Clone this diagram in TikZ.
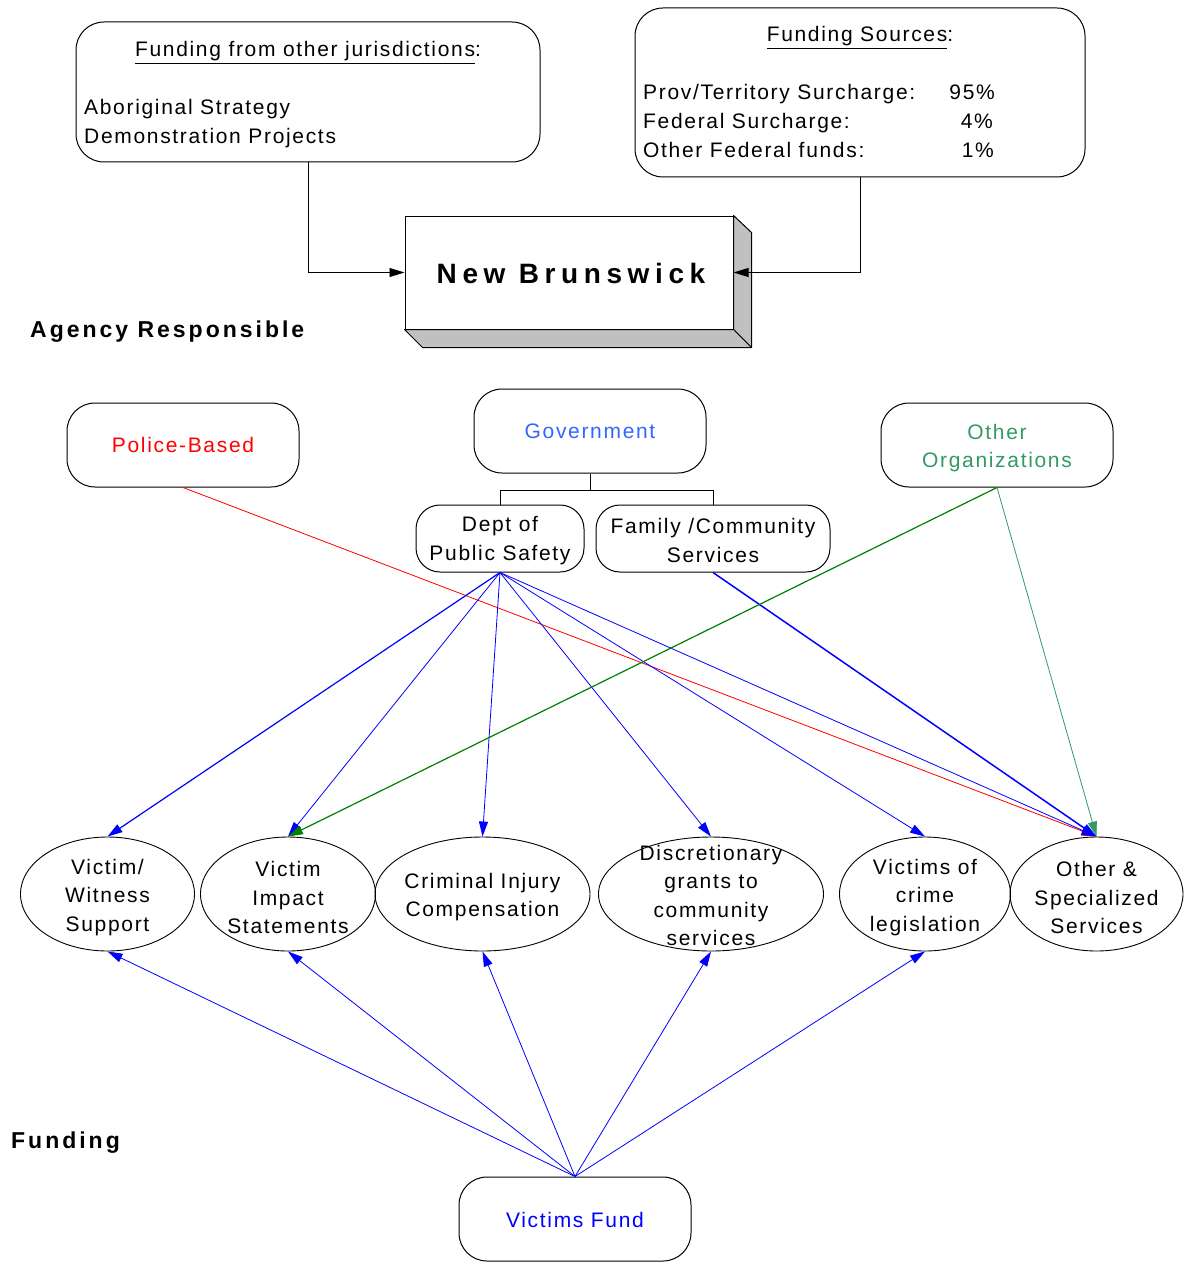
\documentclass[tikz,border=0pt]{standalone}
\usepackage{fontspec}
\setmainfont{Liberation Sans}[LetterSpace=8]
\newfontfamily\headfont{Liberation Sans}[LetterSpace=13]
\newfontfamily\nbfont{Liberation Sans}[LetterSpace=20]
\usetikzlibrary{arrows.meta,shapes.geometric}
\definecolor{govblue}{HTML}{3366FF}
\definecolor{orggreen}{HTML}{339966}
\definecolor{darkgreen}{HTML}{008000}
\definecolor{shade}{HTML}{C0C0C0}
\begin{document}
\begin{tikzpicture}[x=1pt,y=-1pt,
  rbox/.style={draw, line width=1pt, rectangle, rounded corners=28pt, inner sep=0pt},
  sbox/.style={rbox, rounded corners=24pt},
  txt/.style={font=\fontsize{21}{28.5}\selectfont, align=center, inner sep=0pt},
  ltxt/.style={font=\fontsize{21}{28.5}\selectfont, inner sep=0pt, anchor=base west},
  rtxt/.style={font=\fontsize{21}{28.5}\selectfont, inner sep=0pt, anchor=base east},
  heading/.style={font=\headfont\bfseries\fontsize{23}{26}\selectfont, inner sep=0pt, anchor=base west},
  ell/.style={draw, ellipse, line width=0.9pt, minimum height=114pt, inner sep=0pt},
  arrtip/.style={-{Triangle[length=15pt,width=9pt]}},
  feed/.style={line width=0.8pt, black, arrtip},
  arr/.style={line width=0.8pt, arrtip},
]
\useasboundingbox (0,0) rectangle (1185,1268);

% ---- funding boxes at the top ----
\node[rbox, minimum width=464pt, minimum height=140pt] (other) at (308,92) {};
\node[txt, anchor=base] (otherT) at (308,57) {\underline{Funding from other jurisdictions}:};
\node[ltxt] (abo) at (84,115) {Aboriginal Strategy};
\node[ltxt] (demo) at (84,144) {Demonstration Projects};

\node[rbox, minimum width=450pt, minimum height=169pt] (src) at (860,92.5) {};
\node[txt, anchor=base] (srcT) at (860,42) {\underline{Funding Sources}:};
\node[ltxt] (s1) at (643,100) {Prov/Territory Surcharge:};
\node[ltxt] (s2) at (643,129) {Federal Surcharge:};
\node[ltxt] (s3) at (643,158) {Other Federal funds:};
\node[rtxt] (p1) at (995,100) {95\%};
\node[rtxt] (p2) at (993,129) {4\%};
\node[rtxt] (p3) at (994,158) {1\%};

% ---- agency block with 3D edge ----
\node[draw, line width=1pt, fill=white, minimum width=328pt, minimum height=113pt, inner sep=0pt] (nb) at (569,272.5) {};
\filldraw[fill=shade, line width=1pt, line join=round]
  (nb.north east) -- ++(18,17) -- ([shift={(18,18)}]nb.south east) -- (nb.south east) -- cycle;
\filldraw[fill=shade, line width=1pt, line join=round]
  (nb.south west) -- ++(18,18) -- ([shift={(18,18)}]nb.south east) -- (nb.south east) -- cycle;
\node[font=\nbfont\bfseries\fontsize{28}{32}\selectfont, inner sep=0pt] (nbT) at (571,273) {New Brunswick};

\draw[feed] (other.south) |- (nb.west);
\draw[feed] (src.south) |- (nb.east);

\node[heading] (agency) at (30,337) {Agency Responsible};
\node[heading] (fundlbl) at (11,1148) {Funding};

% ---- responsible agencies ----
\node[rbox, minimum width=232pt, minimum height=84pt] (police) at (183,445) {};
\node[txt, text=red] (policeT) at (183,445) {Police-Based};
\node[rbox, minimum width=232pt, minimum height=84pt] (gov) at (590,431) {};
\node[txt, text=govblue] (govT) at (590,431) {Government};
\node[rbox, minimum width=232pt, minimum height=84pt] (org) at (997,445) {};
\node[txt, text=orggreen] (orgT) at (997,448) {Other\\Organizations};

\node[sbox, minimum width=168pt, minimum height=67pt] (dps) at (500,538.5) {};
\node[txt] (dpsT) at (500,540.5) {Dept of\\Public Safety};
\node[sbox, minimum width=234pt, minimum height=67pt] (fcs) at (713,538.5) {};
\node[txt] (fcsT) at (713,540.5) {Family /Community\\Services};

\draw[line width=1pt] (gov.south) -- ++(0,17) coordinate (fork) -| (dps.north);
\draw[line width=1pt] (fork) -| (fcs.north);

% ---- services ----
\node[ell, minimum width=174pt] (e1) at (107.5,894) {};
\node[ell, minimum width=175pt] (e2) at (288,894) {};
\node[ell, minimum width=215pt] (e3) at (482.5,894) {};
\node[ell, minimum width=225pt] (e4) at (711,894) {};
\node[ell, minimum width=171pt] (e5) at (925,894) {};
\node[ell, minimum width=173pt] (e6) at (1096.5,894) {};
\node[txt, yshift=-3.5pt] (e1T) at (e1) {Victim/\\Witness\\Support};
\node[txt, yshift=-3.5pt] (e2T) at (e2) {Victim\\Impact\\Statements};
\node[txt, yshift=-3pt] (e3T) at (e3) {Criminal Injury\\Compensation};
\node[txt, yshift=-1.5pt] (e4T) at (e4) {Discretionary\\grants to\\community\\services};
\node[txt, yshift=-3.5pt] (e5T) at (e5) {Victims of\\crime\\legislation};
\node[txt, yshift=-3.5pt] (e6T) at (e6) {Other \&\\Specialized\\Services};

% ---- victims fund ----
\node[rbox, minimum width=232pt, minimum height=84pt] (vf) at (575,1219) {};
\node[txt, text=blue] (vfT) at (575,1220) {Victims Fund};

% ---- connectors ----
\draw[arr, red] (police.south) -- (e6.north);
\draw[arr, blue, line width=1.2pt] (dps.south) -- (e1.north);
\draw[arr, blue] (dps.south) -- (e2.north);
\draw[arr, blue] (dps.south) -- (e3.north);
\draw[arr, blue] (dps.south) -- (e4.north);
\draw[arr, blue] (dps.south) -- (e5.north);
\draw[arr, blue] (dps.south) -- (e6.north);
\draw[arr, blue, line width=1.5pt] (fcs.south) -- (e6.north);
\draw[arr, darkgreen, line width=1.2pt] (org.south) -- (e2.north);
\draw[arr, orggreen] (org.south) -- (e6.north);

\foreach \e in {e1,e2,e3,e4,e5}
  \draw[arr, blue] (vf.north) -- (\e.south);
\end{tikzpicture}
\end{document}
